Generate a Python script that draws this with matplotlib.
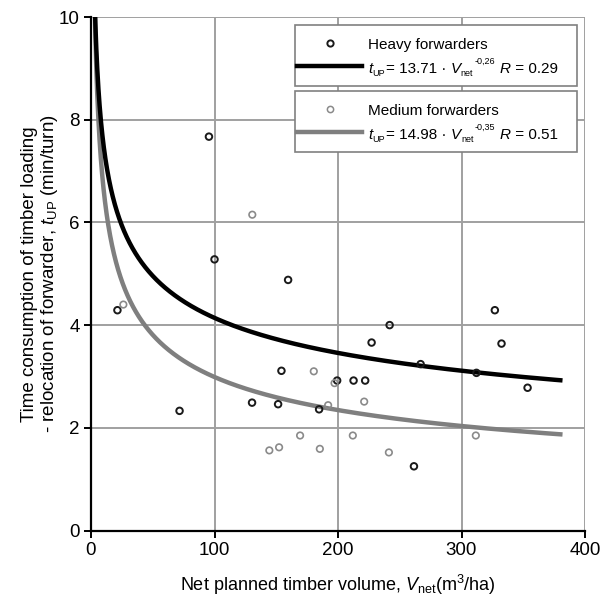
import numpy as np
import matplotlib
matplotlib.use("Agg")
import matplotlib.pyplot as plt
from matplotlib.patches import Rectangle
from matplotlib.lines import Line2D
from matplotlib import font_manager

plt.rcParams['font.family'] = ['Liberation Sans', 'DejaVu Sans']
plt.rcParams['mathtext.fontset'] = 'custom'
plt.rcParams['mathtext.rm'] = 'Liberation Sans'
plt.rcParams['mathtext.it'] = 'Liberation Sans:italic'
plt.rcParams['mathtext.bf'] = 'Liberation Sans:bold'

# ---- data ----
heavy_x = [21.4, 95.5, 100, 159.6, 71.7, 130.4, 151.5, 154.2, 184.7, 199.3,
           212.6, 222, 227.2, 241.8, 261.5, 266.9, 312.1, 327, 332.4, 353.5]
heavy_y = [4.29, 7.67, 5.28, 4.88, 2.33, 2.49, 2.46, 3.11, 2.36, 2.92,
           2.92, 2.92, 3.66, 4.00, 1.25, 3.24, 3.07, 4.29, 3.64, 2.78]
medium_x = [26.2, 130.6, 144.4, 152.3, 169.3, 180.4, 185.3, 192, 197.2, 212,
            221.2, 241.2, 311.6]
medium_y = [4.40, 6.15, 1.56, 1.62, 1.85, 3.10, 1.59, 2.44, 2.87, 1.85,
            2.51, 1.52, 1.85]
heavy_a, heavy_b, heavy_r = 13.71, -0.26, 0.29
medium_a, medium_b, medium_r = 14.98, -0.35, 0.51
curve_v = np.linspace(0.5, 380, 2000)

xticks = [0, 100, 200, 300, 400]
yticks = [0, 2, 4, 6, 8, 10]

# legend font: narrow variant if available
try:
    font_manager.findfont('Liberation Sans Narrow', fallback_to_default=False)
    leg_family = ['Liberation Sans Narrow', 'Liberation Sans']
    leg_size = 12
except Exception:
    leg_family = ['Liberation Sans']
    leg_size = 11

W, H = 605, 606
fig = plt.figure(figsize=(W / 100, H / 100), dpi=100)
fig.patch.set_facecolor('white')
ax = fig.add_axes([91 / W, 1 - 530.5 / H, (585 - 91) / W, (530.5 - 17) / H])
ax.set_xlim(0, 400)
ax.set_ylim(0, 10)
ax.set_xticks(xticks)
ax.set_yticks(yticks)
ax.grid(True, color='#a0a0a0', lw=1.4)
ax.set_axisbelow(True)
for s in ['top', 'right']:
    ax.spines[s].set_visible(False)
for s in ['left', 'bottom']:
    ax.spines[s].set_linewidth(1.6)
    ax.spines[s].set_color('black')
ax.tick_params(direction='out', length=5, width=1.4, labelsize=13.5, pad=3)

ax.plot(curve_v, medium_a * curve_v ** medium_b, color='#7f7f7f', lw=3.2, zorder=3)
ax.plot(curve_v, heavy_a * curve_v ** heavy_b, color='black', lw=3.2, zorder=3)
ax.scatter(heavy_x, heavy_y, s=22, facecolors='none', edgecolors='#1a1a1a', linewidths=1.4, zorder=4)
ax.scatter(medium_x, medium_y, s=22, facecolors='none', edgecolors='#8a8a8a', linewidths=1.2, zorder=4)

ax.set_xlabel(r'Net planned timber volume, $V_{\rm net}$(m$^3$/ha)', fontsize=13, labelpad=10)
ax.set_ylabel('Time consumption of timber loading\n' + r'- relocation of forwarder, $t_{\rm UP}$ (min/turn)',
              fontsize=13.5, labelpad=-1, linespacing=1.1)

# ---- legend boxes (pixel coordinates) ----
def fx(px):
    return px / W

def fy(py):
    return 1 - py / H

renderer = fig.canvas.get_renderer()

def place_segments(x0, ybase, segments):
    """segments: (text, size, style, dy_px, gap_after_px); ybase = baseline in pixels from top"""
    x = x0
    for text, size, style, dy, gap in segments:
        t = fig.text(fx(x), fy(ybase + dy), text, fontsize=size, family=leg_family, style=style,
                     va='baseline', ha='left', zorder=12)
        bb = t.get_window_extent(renderer=renderer)
        x = bb.x1 + gap
    return x

def legend_box(top, bottom, name, a, b, r, color, mec, lw_m):
    fig.add_artist(Rectangle((fx(295), fy(bottom)), fx(577) - fx(295), fy(top) - fy(bottom),
                             transform=fig.transFigure, facecolor='white', edgecolor='#808080', lw=1.2, zorder=10))
    fig.add_artist(Line2D([fx(330)], [fy(top + 18)], transform=fig.transFigure, marker='o',
                          markersize=4.5, markerfacecolor='none', markeredgecolor=mec, markeredgewidth=lw_m, zorder=11))
    fig.add_artist(Line2D([fx(297), fx(362)], [fy(top + 41), fy(top + 41)], transform=fig.transFigure,
                          color=color, lw=3.2, zorder=11))
    fig.text(fx(368), fy(top + 20), name, fontsize=leg_size, family=leg_family, va='center', ha='left', zorder=12)
    base = top + 48
    place_segments(368, base, [
        ('t', leg_size, 'italic', 0, 0.5),
        ('UP', 6.5, 'normal', 3, 0.5),
        ('= ' + f'{a:.2f}' + ' ·', leg_size, 'normal', 0, 4),
        ('V', leg_size, 'italic', 0, 0.5),
        ('net', 6.5, 'normal', 3, 1),
        (f'{b:.2f}'.replace('.', ','), 6.5, 'normal', -9, 0),
    ])
    place_segments(500, base, [
        ('R', leg_size, 'italic', 0, 0),
        (' = ' + f'{r:.2f}', leg_size, 'normal', 0, 0),
    ])

legend_box(25, 86, 'Heavy forwarders', heavy_a, heavy_b, heavy_r, 'black', '#1a1a1a', 1.4)
legend_box(91, 152, 'Medium forwarders', medium_a, medium_b, medium_r, '#7f7f7f', '#8a8a8a', 1.1)

fig.savefig('out.png', dpi=100, facecolor='white')
